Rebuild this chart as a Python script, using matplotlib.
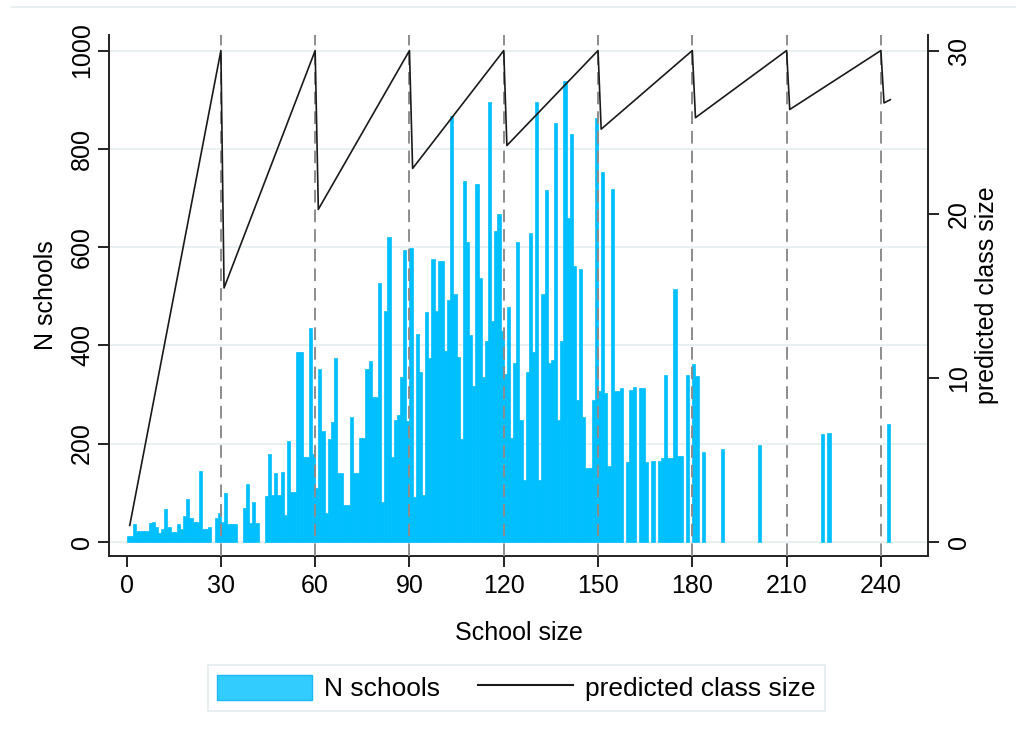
import numpy as np
import matplotlib
matplotlib.use('Agg')
import matplotlib.pyplot as plt
from matplotlib.patches import Patch
from matplotlib.lines import Line2D

plt.rcParams['font.family'] = ['Liberation Sans', 'DejaVu Sans']

# number of schools by school size (bins start at 0, width 1)
n_schools = [
    12, 12, 36, 22, 22, 22, 22, 39, 41, 30,          # 0-9
    18, 27, 67, 30, 20, 20, 36, 27, 53, 88,          # 10-19
    48, 41, 41, 145, 27, 27, 30, 0, 48, 58,          # 20-29
    40, 100, 36, 36, 36, 0, 0, 68, 118, 39,          # 30-39
    82, 39, 0, 0, 94, 179, 95, 140, 95, 143,         # 40-49
    54, 205, 102, 102, 386, 386, 172, 172, 436, 179,  # 50-59
    109, 352, 226, 58, 209, 243, 375, 141, 141, 75,   # 60-69
    75, 255, 141, 141, 211, 211, 352, 369, 294, 294,  # 70-79
    526, 82, 469, 621, 172, 248, 258, 335, 593, 246,  # 80-89
    598, 92, 423, 345, 95, 467, 375, 576, 470, 571,   # 90-99
    571, 389, 493, 866, 505, 377, 209, 735, 610, 420,  # 100-109
    318, 728, 538, 335, 409, 896, 450, 633, 667, 430,  # 110-119
    342, 478, 211, 364, 610, 248, 126, 346, 629, 387,  # 120-129
    896, 126, 504, 717, 363, 370, 852, 248, 409, 938,  # 130-139
    660, 830, 562, 289, 556, 255, 151, 151, 289, 862,  # 140-149
    307, 753, 302, 155, 718, 306, 306, 314, 0, 162,    # 150-159
    310, 316, 0, 313, 313, 162, 0, 165, 0, 165,        # 160-169
    171, 340, 171, 171, 515, 175, 175, 0, 340, 0,      # 170-179
    362, 338, 0, 183, 0, 0, 0, 0, 0, 189,              # 180-189
    0, 0, 0, 0, 0, 0, 0, 0, 0, 0,                      # 190-199
    0, 198, 0, 0, 0, 0, 0, 0, 0, 0,                    # 200-209
    0, 0, 0, 0, 0, 0, 0, 0, 0, 0,                      # 210-219
    0, 219, 0, 222, 0, 0, 0, 0, 0, 0,                  # 220-229
    0, 0, 0, 0, 0, 0, 0, 0, 0, 0,                      # 230-239
    0, 0, 240,                                         # 240-242
]

# predicted class size, read at the kinks of the line
class_x = [1, 30, 31, 60, 61, 90, 91, 120, 121, 150, 151, 180, 181, 210, 211, 240, 241, 243]
class_y = [1.0, 30.0, 15.5, 30.0, 20.3, 30.0, 22.8, 30.0, 24.2, 30.0, 25.2, 30.0,
           25.9, 30.0, 26.4, 30.0, 26.8, 27.0]

cutoffs = [30, 60, 90, 120, 150, 180, 210, 240]
left_ticks = [0, 200, 400, 600, 800, 1000]
right_ticks = [0, 10, 20, 30]

FS = 18
bar_col = '#00bfff'

fig = plt.figure(figsize=(10.16, 7.40), dpi=100)
ax = fig.add_axes([0.1076, 0.2486, 0.8055, 0.704])

sizes = np.arange(len(n_schools))
counts = np.array(n_schools)
keep = counts > 0
ax.bar(sizes[keep], counts[keep], width=1, align='edge', color=bar_col,
       edgecolor=bar_col, linewidth=0.5, zorder=2)
for c in cutoffs:
    ax.axvline(c, color='#8c8c8c', lw=1.4, ls=(0, (6.5, 3.6)), zorder=3)

ax.set_xlim(-5.5, 254.9)
ax.set_ylim(-29, 1031.5)
ax.set_yticks(left_ticks)
ax.set_yticklabels([str(t) for t in left_ticks], rotation=90, va='center')
ax.set_xticks([0] + cutoffs)
ax.yaxis.grid(True, color='#e6eff1', lw=1.3, zorder=0)
ax.set_axisbelow(True)
ax.tick_params(axis='both', labelsize=FS, length=8, width=1.4, color='#222222')
ax.tick_params(axis='y', pad=3)
ax.tick_params(axis='x', pad=5)
ax.set_xlabel('School size', fontsize=FS)
ax.xaxis.set_label_coords(0.5, -0.125)
ax.set_ylabel('N schools', fontsize=FS)
ax.yaxis.set_label_coords(-0.063, 0.5)
for s in ['top', 'right']:
    ax.spines[s].set_visible(False)
for s in ['left', 'bottom']:
    ax.spines[s].set_linewidth(1.4)
    ax.spines[s].set_color('#222222')

ax2 = ax.twinx()
ax2.plot(class_x, class_y, color='#1a1a1a', lw=1.2, zorder=4)
ax2.set_ylim(-29 * 0.03, 1031.5 * 0.03)
ax2.set_yticks(right_ticks)
ax2.set_yticklabels([str(t) for t in right_ticks], rotation=90, va='center')
ax2.tick_params(axis='y', labelsize=FS, length=8, width=1.4, color='#222222', pad=6)
ax2.set_ylabel('predicted class size', fontsize=FS)
ax2.yaxis.set_label_coords(1.058, 0.5)
for s in ['top', 'left', 'bottom']:
    ax2.spines[s].set_visible(False)
ax2.spines['right'].set_linewidth(1.4)
ax2.spines['right'].set_color('#222222')

handles = [Patch(facecolor='#33ccff', edgecolor='#1ab8f5', lw=1.0),
           Line2D([], [], color='#1a1a1a', lw=1.5)]
leg = fig.legend(handles, ['N schools', 'predicted class size'], loc='center',
                 bbox_to_anchor=(0.508, 0.0703), ncol=2, fontsize=19,
                 frameon=True, fancybox=False, edgecolor='#dde7ea',
                 handlelength=3.6, handleheight=1.1, handletextpad=0.45,
                 columnspacing=1.45, borderpad=0.35)
leg.get_frame().set_linewidth(1.2)

fig.add_artist(Line2D([12 / 1016, 1.0], [1 - 7 / 740, 1 - 7 / 740],
                      color='#e6eef0', lw=1.5))

fig.savefig('out.png', dpi=100)
